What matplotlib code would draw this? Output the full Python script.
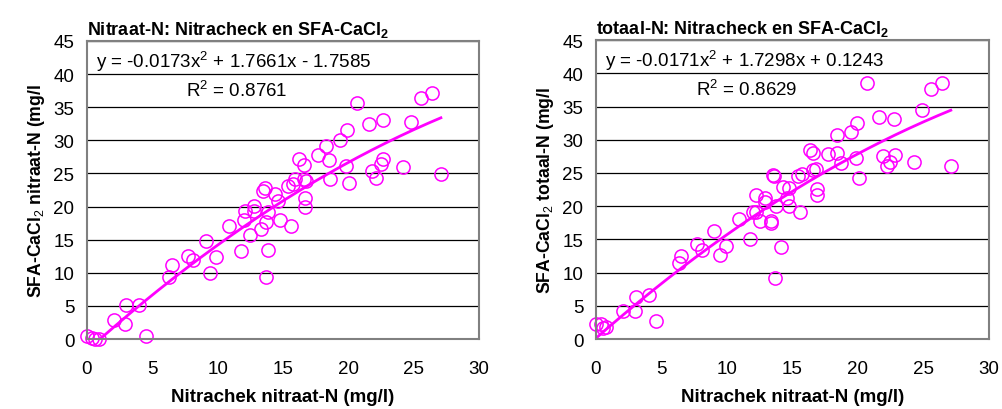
import numpy as np
import matplotlib
matplotlib.use("Agg")
import matplotlib.pyplot as plt

plt.rcParams["font.family"] = ["Liberation Sans", "DejaVu Sans"]
plt.rcParams["mathtext.fontset"] = "custom"
plt.rcParams["mathtext.rm"] = "Liberation Sans"
plt.rcParams["mathtext.bf"] = "Liberation Sans:bold"

# Nitracheck nitraat-N vs SFA-CaCl2 nitraat-N
nit_x = [0.0, 0.4, 0.6, 0.9, 2.1, 2.9, 3.0, 4.0, 4.5, 6.3, 6.5, 7.7, 8.1, 9.1,
         9.4, 9.9, 10.85, 11.8, 12.0, 12.1, 12.5, 12.8, 12.8, 13.3, 13.5, 13.6,
         13.7, 13.7, 13.9, 13.9, 14.4, 14.6, 14.8, 15.65, 15.4, 15.8, 15.9, 16.2,
         16.6, 16.6, 16.8, 16.7, 16.7, 17.7, 18.3, 18.5, 18.6, 19.4, 19.9, 19.8,
         20.1, 20.7, 21.6, 21.8, 22.1, 22.5, 22.7, 22.7, 24.2, 24.8, 25.6, 26.4,
         27.1]
nit_y = [0.5, 0.1, 0.0, 0.0, 2.9, 2.3, 5.1, 5.1, 0.5, 9.3, 11.2, 12.6, 11.9, 14.8,
         9.9, 12.4, 17.1, 13.3, 17.9, 19.3, 15.7, 20.1, 19.3, 16.6, 22.4, 22.8,
         17.6, 9.3, 13.5, 19.2, 21.9, 20.9, 17.9, 17.0, 23.1, 23.4, 24.2, 27.2,
         24.2, 26.3, 23.8, 21.3, 19.9, 27.8, 29.1, 27.1, 24.2, 30.0, 31.5, 26.1,
         23.6, 35.7, 32.4, 25.4, 24.3, 26.4, 27.2, 33.0, 26.0, 32.8, 36.4, 37.2,
         24.9]
nit_coef = [-0.0173, 1.7661, -1.7585]
nit_eq = "y = -0.0173x$^2$ + 1.7661x - 1.7585"
nit_r2 = "R$^2$ = 0.8761"

# Nitracheck nitraat-N vs SFA-CaCl2 totaal-N
tot_x = [0.0, 0.4, 0.5, 0.8, 2.1, 3.0, 3.05, 4.07, 4.6, 6.36, 6.5, 7.7, 8.1, 9.05,
         9.5, 9.9, 10.9, 11.8, 12.0, 12.2, 12.2, 12.5, 12.9, 12.9, 13.35, 13.4,
         13.5, 13.6, 13.7, 13.75, 14.1, 14.3, 14.6, 14.75, 14.75, 15.4, 15.6, 15.7,
         16.35, 16.6, 16.6, 16.8, 16.9, 16.9, 17.75, 18.4, 18.4, 18.7, 19.5, 19.9,
         19.86, 20.1, 20.7, 21.6, 21.9, 22.2, 22.45, 22.8, 22.75, 24.3, 24.9, 25.6,
         26.4, 27.1]
tot_y = [2.2, 2.3, 1.7, 1.8, 4.2, 4.2, 6.4, 6.7, 2.7, 11.4, 12.5, 14.3, 13.4, 16.2,
         12.7, 14.0, 18.0, 15.0, 19.1, 21.7, 19.1, 17.8, 21.3, 20.6, 17.5, 17.8,
         24.7, 24.6, 9.2, 20.1, 13.9, 22.9, 21.2, 22.8, 20.0, 24.5, 19.1, 24.8,
         28.5, 28.0, 25.5, 25.6, 22.6, 21.7, 27.9, 28.0, 30.7, 26.5, 31.2, 32.5,
         27.2, 24.2, 38.6, 33.4, 27.5, 26.0, 26.7, 27.7, 33.1, 26.6, 34.5, 37.7,
         38.6, 26.1]
tot_coef = [-0.0171, 1.7298, 0.1243]
tot_eq = "y = -0.0171x$^2$ + 1.7298x + 0.1243"
tot_r2 = "R$^2$ = 0.8629"

MAG = "#FF00FF"

fig = plt.figure(figsize=(10.02, 4.1), dpi=100)
ax1 = fig.add_axes([0.0868, 0.1707, 0.391, 0.727])
ax2 = fig.add_axes([0.5948, 0.1707, 0.392, 0.729])

panels = [
    (ax1, nit_x, nit_y, nit_coef, nit_eq, nit_r2,
     "Nitraat-N: Nitracheck en SFA-CaCl$\\mathbf{_2}$",
     "SFA-CaCl$_2$ nitraat-N (mg/l"),
    (ax2, tot_x, tot_y, tot_coef, tot_eq, tot_r2,
     "totaal-N: Nitracheck en SFA-CaCl$\\mathbf{_2}$",
     "SFA-CaCl$_2$ totaal-N (mg/l"),
]

for ax, xs, ys, coef, eq, r2, title, ylab in panels:
    ax.set_xlim(0, 30)
    ax.set_ylim(0, 45)
    ax.set_xticks(range(0, 31, 5))
    ax.set_yticks(range(0, 46, 5))
    ax.yaxis.grid(True, color="black", linewidth=0.9)
    ax.set_axisbelow(True)
    for sp in ax.spines.values():
        sp.set_color("#808080")
        sp.set_linewidth(1.5)
    ax.tick_params(length=0, labelsize=13.5)
    ax.tick_params(axis="x", pad=15)
    ax.tick_params(axis="y", pad=9)

    xx = np.linspace(min(xs), max(xs), 200)
    ax.plot(xx, np.polyval(coef, xx), color=MAG, linewidth=2)
    ax.plot(xs, ys, linestyle="none", marker="o", markersize=9.5,
            markerfacecolor="none", markeredgecolor=MAG, markeredgewidth=1.1,
            clip_on=False)

    ax.text(0.7, 42.0, eq, fontsize=13.5, va="center", ha="left")
    ax.text(11.5, 37.7, r2, fontsize=13.5, va="center", ha="center")

    ax.set_title(title, loc="left", fontsize=13, fontweight="bold", pad=5)
    ax.set_ylabel(ylab, fontsize=12.7, fontweight="bold", labelpad=5)
    ax.set_xlabel("Nitrachek nitraat-N (mg/l)", fontsize=13.5,
                  fontweight="bold", labelpad=8)

fig.savefig("out.png", dpi=100)
